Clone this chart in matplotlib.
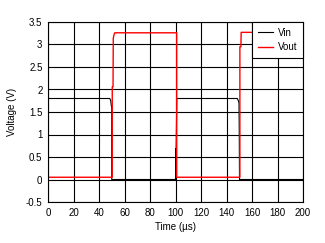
import numpy as np
import matplotlib.pyplot as plt

plt.rcParams['font.family'] = ['Liberation Sans', 'DejaVu Sans']

# input voltage trace (time in us, volts)
vin_t = [0, 48.5, 49.2, 49.6, 50.0, 50.0, 100.2, 100.2, 100.2, 101.0, 148.5, 149.3, 149.8, 150.0, 150.2, 200]
vin_v = [1.8, 1.8, 1.75, 1.65, 1.6, 0.0, 0.0, 0.68, 0.0, 1.8, 1.8, 1.75, 1.7, 1.06, 0.0, 0.0]

# output voltage trace
vout_t = [0, 50.4, 50.4, 51.0, 51.2, 51.8, 52.4, 100.9, 100.9, 150.5, 150.5, 151.3, 151.5, 200]
vout_v = [0.05, 0.05, 2.06, 2.06, 3.14, 3.22, 3.26, 3.26, 0.05, 0.05, 2.95, 2.95, 3.27, 3.27]

xticks = np.arange(0, 201, 20)
yticks = np.arange(-0.5, 3.51, 0.5)

fig = plt.figure(figsize=(3.25, 2.43), dpi=100)
ax = fig.add_axes([48 / 325, 1 - 202 / 243, 255 / 325, 180 / 243])

ax.plot(vin_t, vin_v, color='black', lw=0.8, label='Vin')
ax.plot(vout_t, vout_v, color='red', lw=1.0, label='Vout')

ax.set_xlim(0, 200)
ax.set_ylim(-0.5, 3.5)
ax.set_xticks(xticks)
ax.set_yticks(yticks)
ax.set_yticklabels(['%g' % v for v in yticks])
ax.grid(True, color='black', lw=0.8)
ax.set_axisbelow(True)
ax.tick_params(length=0, labelsize=7, pad=4)
for s in ax.spines.values():
    s.set_color('black')
    s.set_linewidth(0.8)

ax.set_xlabel('Time (µs)', fontsize=7, labelpad=3)
ax.set_ylabel('Voltage (V)', fontsize=7, labelpad=6)

leg = ax.legend(loc='upper right', fontsize=7, frameon=True, fancybox=False,
                framealpha=1, borderaxespad=0, handlelength=1.5,
                handletextpad=0.5, borderpad=0.6, labelspacing=0.45)
leg.get_frame().set_edgecolor('black')
leg.get_frame().set_linewidth(0.8)

fig.savefig('out.png', dpi=100)
